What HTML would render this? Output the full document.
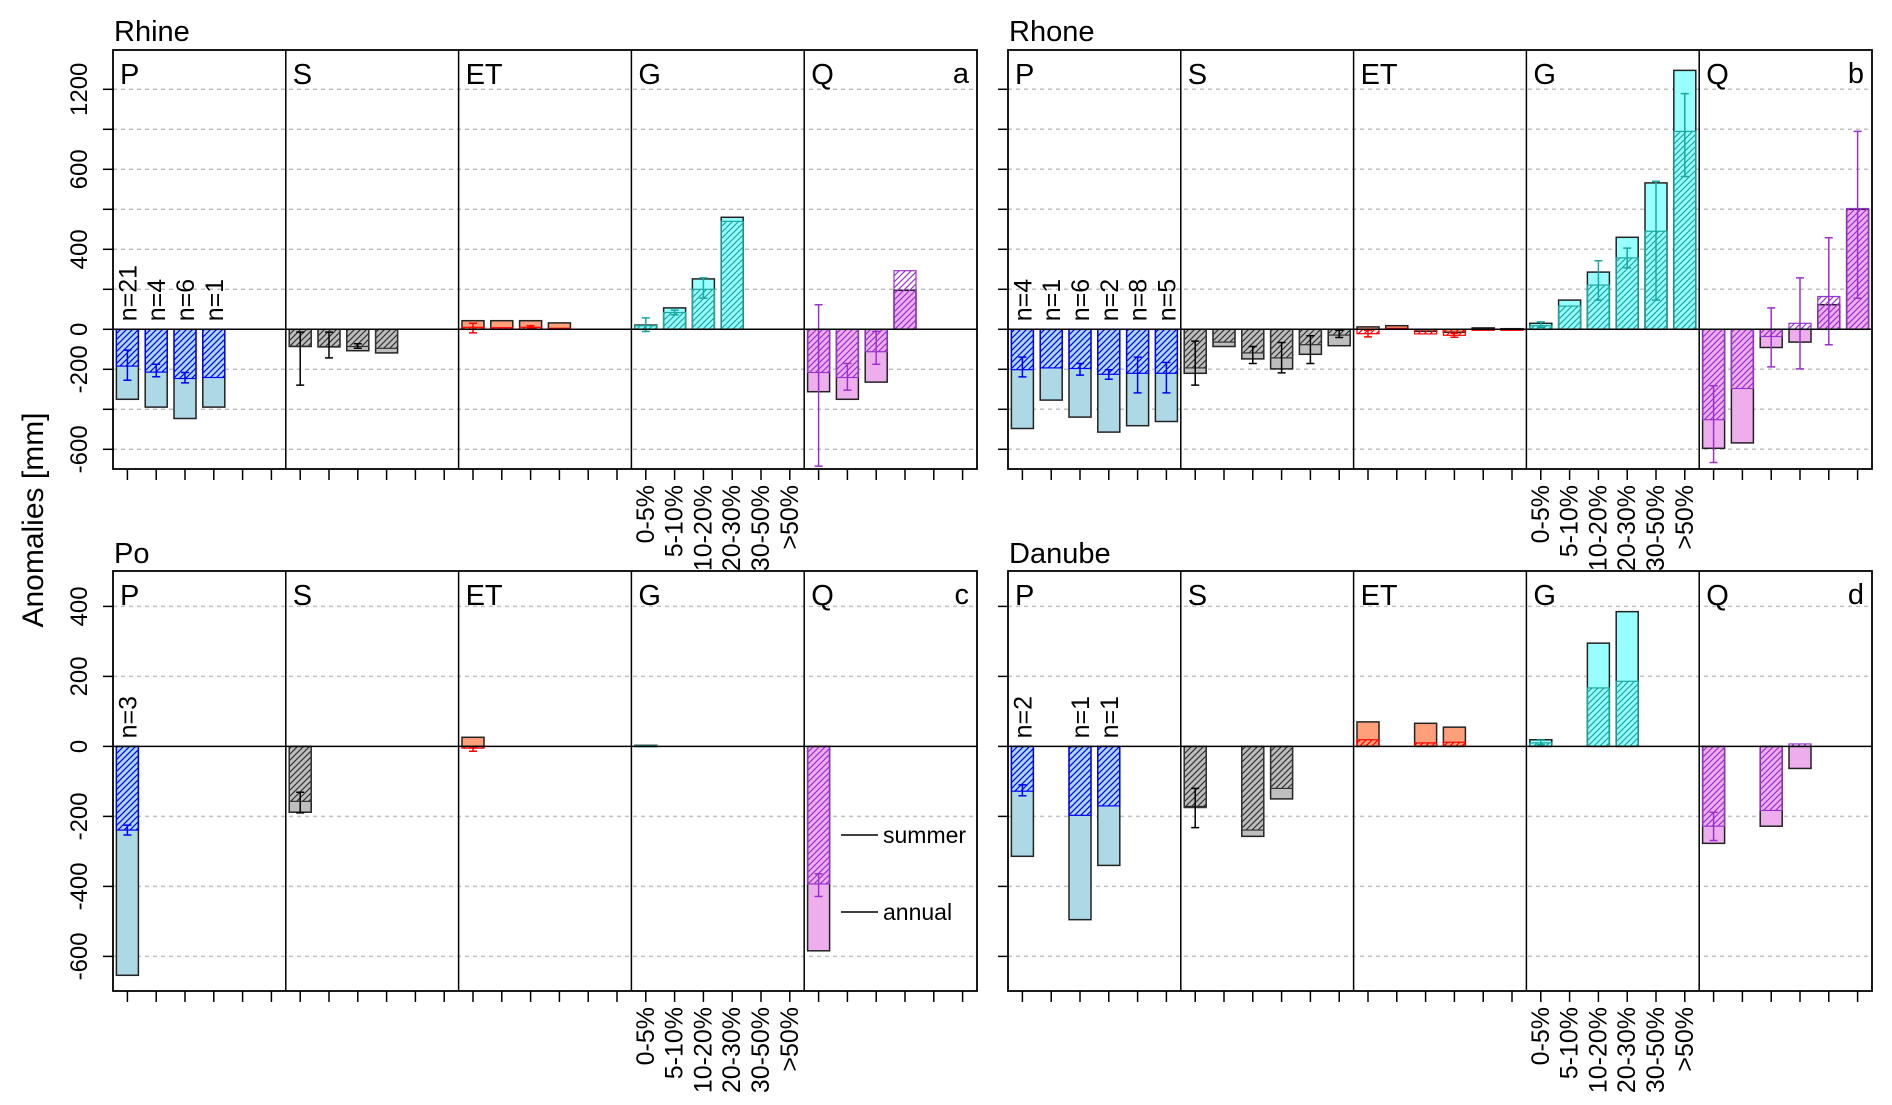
<!DOCTYPE html>
<html><head><meta charset="utf-8"><style>
html,body{margin:0;padding:0;background:#fff;}
svg{display:block;font-family:"Liberation Sans",Arial,sans-serif;}
</style></head><body>
<svg id="chart" width="1892" height="1105" viewBox="0 0 1892 1105" xmlns="http://www.w3.org/2000/svg">
<defs>
<pattern id="h-P" patternUnits="userSpaceOnUse" width="6" height="6"><path d="M-1,7 L7,-1 M-1,1 L1,-1 M5,7 L7,5" stroke="#0000ff" stroke-width="1.2"/></pattern>
<pattern id="h-S" patternUnits="userSpaceOnUse" width="6" height="6"><path d="M-1,7 L7,-1 M-1,1 L1,-1 M5,7 L7,5" stroke="#333" stroke-width="1.2"/></pattern>
<pattern id="h-ET" patternUnits="userSpaceOnUse" width="6" height="6"><path d="M-1,7 L7,-1 M-1,1 L1,-1 M5,7 L7,5" stroke="#ff0000" stroke-width="1.2"/></pattern>
<pattern id="h-G" patternUnits="userSpaceOnUse" width="6" height="6"><path d="M-1,7 L7,-1 M-1,1 L1,-1 M5,7 L7,5" stroke="#1aa8a0" stroke-width="1.2"/></pattern>
<pattern id="h-Q" patternUnits="userSpaceOnUse" width="6" height="6"><path d="M-1,7 L7,-1 M-1,1 L1,-1 M5,7 L7,5" stroke="#9932cc" stroke-width="1.2"/></pattern>
</defs>
<text transform="translate(43,520) rotate(-90)" text-anchor="middle" font-size="30">Anomalies [mm]</text>
</svg>
<script>
// ---- data ----
const variables = ["P","S","ET","G","Q"];
const glacierClasses = ["0-5%","5-10%","10-20%","20-30%","30-50%",">50%"];

const rhineAnnual = [[-350,-389,-446,-389,null,null],[-86,-88,-107,-118,null,null],[43,43,43,32,null,null],[21,107,252,480,null,null],[-312,-350,-264,195,null,null]];
const rhineSummer = [[-184,-214,-246,-241,null,null],[-84,-86,-86,-95,null,null],[10,8,10,5,null,null],[18,84,200,470,null,null],[-216,-241,-112,293,null,null]];
const rhineErrLo = [[-255,-237,-268,null,null,null],[-279,-143,-95,null,null,null],[-18,null,5,null,null,null],[-11,72,155,null,null,null],[-684,-304,-175,null,null,null]];
const rhineErrHi = [[-104,-175,-216,null,null,null],[-14,-14,-72,null,null,null],[30,null,18,null,null,null],[57,96,257,null,null,null],[123,-171,-11,null,null,null]];
const rhineN = [21,4,6,1,null,null];

const rhoneAnnual = [[-496,-354,-439,-514,-482,-461],[-220,-86,-148,-198,-125,-82],[12,18,-10,-15,7,3],[30,146,286,430,566,1342],[-595,-568,-91,-64,123,500]];
const rhoneSummer = [[-202,-193,-196,-225,-220,-220],[-193,-64,-118,-143,-77,-29],[-22,5,-23,-30,-5,-5],[18,116,221,357,445,884],[-452,-296,-36,30,164,502]];
const rhoneErrLo = [[-238,null,-229,-250,-318,-318],[-279,null,-171,-218,-171,-41],[-38,null,null,-40,null,null],[10,null,146,307,146,582],[-666,null,-188,-198,-77,155]];
const rhoneErrHi = [[-139,null,-171,-202,-139,-166],[-59,null,-86,-66,-32,-5],[-5,null,null,-20,null,null],[37,null,343,403,570,1168],[-282,null,107,257,429,884]];
const rhoneN = [4,1,6,2,8,5];

const poAnnual = [[-654,null,null,null,null,null],[-188,null,null,null,null,null],[26,null,null,null,null,null],[3,null,null,null,null,null],[-584,null,null,null,null,null]];
const poSummer = [[-239,null,null,null,null,null],[-157,null,null,null,null,null],[-5,null,null,null,null,null],[2,null,null,null,null,null],[-393,null,null,null,null,null]];
const poErrLo = [[-253,null,null,null,null,null],[-190,null,null,null,null,null],[-14,null,null,null,null,null],[null,null,null,null,null,null],[-429,null,null,null,null,null]];
const poErrHi = [[-225,null,null,null,null,null],[-131,null,null,null,null,null],[-3,null,null,null,null,null],[null,null,null,null,null,null],[-364,null,null,null,null,null]];
const poN = [3,null,null,null,null,null];

const danubeAnnual = [[-314,null,-495,-340,null,null],[-172,null,-257,-150,null,null],[70,null,66,55,null,null],[19,null,295,385,null,null],[-277,null,-228,-63,null,null]];
const danubeSummer = [[-128,null,-197,-170,null,null],[-175,null,-239,-120,null,null],[19,null,10,12,null,null],[10,null,167,186,null,null],[-228,null,-183,7,null,null]];
const danubeErrLo = [[-141,null,null,null,null,null],[-232,null,null,null,null,null],[null,null,null,null,null,null],[5,null,null,null,null,null],[-269,null,null,null,null,null]];
const danubeErrHi = [[-110,null,null,null,null,null],[-120,null,null,null,null,null],[null,null,null,null,null,null],[18,null,null,null,null,null],[-188,null,null,null,null,null]];
const danubeN = [2,null,1,1,null,null];

const topTicks = [-600,-400,-200,0,200,400,500,600,900,1200];
const topTickLabels = ["-600","","-200","0","","400","","600","","1200"];
const bottomTicks = [-600,-400,-200,0,200,400];
const bottomTickLabels = ["-600","-400","-200","0","200","400"];

// ---- rendering ----
const svg = document.getElementById('chart');
const NS = 'http://www.w3.org/2000/svg';
const annualFill = {P:"#add8e6",S:"#bebebe",ET:"#ffa07a",G:"#97ffff",Q:"#eeaeee"};
const hatchCol = {P:"#0000ff",S:"#333333",ET:"#ff0000",G:"#1aa8a0",Q:"#9932cc"};

function mk(tag, attrs, parent){
  const e = document.createElementNS(NS, tag);
  for (const k in attrs) e.setAttribute(k, attrs[k]);
  (parent||svg).appendChild(e);
  return e;
}
function topScale(v){
  let u;
  if (v <= 400) u = v/200;
  else if (v <= 600) u = 2 + (v-400)/100;
  else u = 4 + (v-600)/300;
  return 329.3 - u*40;
}
function bottomScale(v){ return 746.4 - v/200*70; }

const panels = [
  {name:"Rhine", letter:"a", x0:113, top:50, bottom:469, titleY:41, yScale:topScale, ticks:topTicks, labels:topTickLabels, showLabels:true, annual:rhineAnnual, summer:rhineSummer, lo:rhineErrLo, hi:rhineErrHi, n:rhineN},
  {name:"Rhone", letter:"b", x0:1008, top:50, bottom:469, titleY:41, yScale:topScale, ticks:topTicks, labels:topTickLabels, showLabels:false, annual:rhoneAnnual, summer:rhoneSummer, lo:rhoneErrLo, hi:rhoneErrHi, n:rhoneN},
  {name:"Po", letter:"c", x0:113, top:571, bottom:991, titleY:563, yScale:bottomScale, ticks:bottomTicks, labels:bottomTickLabels, showLabels:true, annual:poAnnual, summer:poSummer, lo:poErrLo, hi:poErrHi, n:poN, legend:true},
  {name:"Danube", letter:"d", x0:1008, top:571, bottom:991, titleY:563, yScale:bottomScale, ticks:bottomTicks, labels:bottomTickLabels, showLabels:false, annual:danubeAnnual, summer:danubeSummer, lo:danubeErrLo, hi:danubeErrHi, n:danubeN}
];
const colW = 172.8, slotW = colW/6, barW = 22;

panels.forEach(p => {
  const g = mk('g', {});
  
  
  const x1 = p.x0 + colW*5;
  const ys = p.yScale;
  const t = mk('text', {x:p.x0+1, y:p.titleY, 'font-size':29}, g);
  t.textContent = p.name;
  
  
  p.ticks.forEach((v,i) => {
    if (v === 0) return;
    const gl = mk('line', {x1:p.x0, x2:x1, y1:ys(v), y2:ys(v), stroke:'#c0c0c0', 'stroke-width':1.5, 'stroke-dasharray':'4,4'}, g);
    
    
  });
  p.ticks.forEach((v,i) => {
    const tk = mk('line', {x1:p.x0-10, x2:p.x0, y1:ys(v), y2:ys(v), stroke:'#000', 'stroke-width':1.5}, g);
    
    
    if (p.showLabels && p.labels[i] !== "") {
      const lt = mk('text', {transform:`translate(87,${ys(v)}) rotate(-90)`, 'text-anchor':'middle', 'font-size':24}, g);
      lt.textContent = p.labels[i];
      
      
    }
  });
  const y0 = ys(0);
  variables.forEach((vn, c) => {
    const cx0 = p.x0 + c*colW;
    for (let s=0; s<6; s++){
      const xc = cx0 + slotW*(s+0.5);
      const tk = mk('line', {x1:xc, x2:xc, y1:p.bottom, y2:p.bottom+11, stroke:'#000', 'stroke-width':1.5}, g);
      
      
      if (vn === 'G') {
        const gt = mk('text', {transform:`translate(${xc+8},${p.bottom+16}) rotate(-90)`, 'text-anchor':'end', 'font-size':25}, g);
        gt.textContent = glacierClasses[s];
        
        
      }
      const a = p.annual[c][s], su = p.summer[c][s];
      if (a !== null) {
        const ya = ys(a);
        const r = mk('rect', {x:xc-barW/2, y:Math.min(ya,y0), width:barW, height:Math.max(1,Math.abs(ya-y0)), fill:annualFill[vn], stroke:'#222', 'stroke-width':1.5}, g);
        
        
      }
      if (su !== null) {
        const yv = ys(su);
        const r = mk('rect', {x:xc-barW/2, y:Math.min(yv,y0), width:barW, height:Math.max(1,Math.abs(yv-y0)), fill:`url(#h-${vn})`, stroke:hatchCol[vn], 'stroke-width':1.2}, g);
        
        
      }
      const lo = p.lo[c][s], hi = p.hi[c][s];
      if (lo !== null && hi !== null) {
        const ec = vn === 'S' ? '#000' : hatchCol[vn];
        const eg = mk('path', {d:`M${xc},${ys(lo)}V${ys(hi)}M${xc-4},${ys(lo)}H${xc+4}M${xc-4},${ys(hi)}H${xc+4}`, stroke:ec, 'stroke-width':1.5, fill:'none'}, g);
        
        
      }
      if (vn === 'P' && p.n[s] !== null) {
        const nt = mk('text', {transform:`translate(${xc+9},${y0-8}) rotate(-90)`, 'font-size':25}, g);
        nt.textContent = 'n=' + p.n[s];
        
        
      }
    }
    const vt = mk('text', {x:cx0+7, y:p.top+34, 'font-size':29}, g);
    vt.textContent = vn;
    
    
    if (c > 0) {
      const dv = mk('line', {x1:cx0, x2:cx0, y1:p.top, y2:p.bottom, stroke:'#000', 'stroke-width':1.5}, g);
      
      
    }
  });
  const zl = mk('line', {x1:p.x0, x2:x1, y1:y0, y2:y0, stroke:'#000', 'stroke-width':1.5}, g);
  
  
  const fr = mk('rect', {x:p.x0, y:p.top, width:x1-p.x0, height:p.bottom-p.top, fill:'none', stroke:'#000', 'stroke-width':1.8}, g);
  
  
  const lt = mk('text', {x:x1-8, y:p.top+33, 'text-anchor':'end', 'font-size':29}, g);
  lt.textContent = p.letter;
  
  
  if (p.legend) {
    const l1 = mk('line', {x1:841, x2:878, y1:835, y2:835, stroke:'#000', 'stroke-width':1.5}, g);
    
    
    const s1 = mk('text', {x:883, y:843, 'font-size':23}, g);
    s1.textContent = 'summer';
    
    
    const l2 = mk('line', {x1:841, x2:878, y1:912, y2:912, stroke:'#000', 'stroke-width':1.5}, g);
    
    
    const s2 = mk('text', {x:883, y:920, 'font-size':23}, g);
    s2.textContent = 'annual';
    
    
  }
});
</script>
</body></html>
